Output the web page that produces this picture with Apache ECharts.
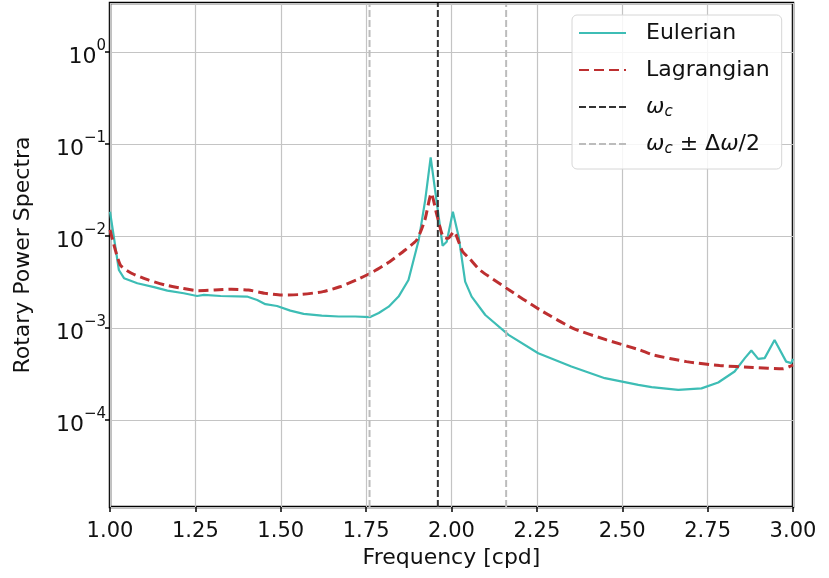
<!DOCTYPE html>
<html lang="en">
<head>
    <meta charset="UTF-8">
    <title>Rotary Power Spectra</title>
    <script src="https://cdn.jsdelivr.net/npm/echarts@6/dist/echarts.min.js"></script>
    <style>html, body {margin: 0; padding: 0; background: #fff;}</style>
</head>
<body>
<div id="echart" style="width:829px;height:578px"></div>
<script type="text/javascript">
    // values
    var eulerFreq = [1.00, 1.026, 1.041, 1.08, 1.129, 1.168, 1.216, 1.255, 1.275, 1.324, 1.401, 1.431, 1.455, 1.489,
        1.528, 1.567, 1.62, 1.67, 1.718, 1.762, 1.787, 1.816, 1.845, 1.874, 1.904, 1.923, 1.939, 1.974, 1.986,
        2.004, 2.021, 2.04, 2.059, 2.099, 2.167, 2.254, 2.351, 2.449, 2.547, 2.586, 2.664, 2.732, 2.781, 2.829,
        2.859, 2.878, 2.898, 2.917, 2.946, 2.98, 2.995, 3.00];
    var eulerPower = [0.0183, 0.00426, 0.00347, 0.00306, 0.00277, 0.00254, 0.00238, 0.00222, 0.00228, 0.00222,
        0.00219, 0.00201, 0.00181, 0.00173, 0.00154, 0.00142, 0.00136, 0.00133, 0.00133, 0.00131, 0.00145, 0.0017,
        0.00219, 0.00332, 0.0090, 0.0245, 0.0713, 0.0078, 0.00865, 0.0183, 0.0098, 0.00318, 0.00219, 0.00138,
        0.00084, 0.00053, 0.00038, 0.000284, 0.00024, 0.000227, 0.000212, 0.00022, 0.000255, 0.000336, 0.000469,
        0.000568, 0.00046, 0.000469, 0.00074, 0.00043, 0.000414, 0.00046];
    var lagFreq = [1.00, 1.03, 1.063, 1.112, 1.161, 1.21, 1.259, 1.307, 1.356, 1.405, 1.454, 1.502, 1.561, 1.624,
        1.673, 1.722, 1.771, 1.819, 1.858, 1.898, 1.922, 1.941, 1.956, 1.975, 1.99, 2.007, 2.032, 2.054, 2.083,
        2.161, 2.259, 2.356, 2.454, 2.551, 2.59, 2.688, 2.785, 2.883, 2.97, 3.00];
    var lagPower = [0.0116, 0.00483, 0.00393, 0.00332, 0.00293, 0.0027, 0.00254, 0.00258, 0.00263, 0.00258, 0.00238,
        0.00228, 0.00231, 0.00248, 0.0028, 0.00332, 0.00408, 0.00525, 0.00673, 0.00902, 0.0149, 0.029, 0.0176,
        0.0098, 0.0094, 0.0111, 0.0068, 0.0056, 0.00426, 0.0027, 0.00157, 0.00099, 0.00074, 0.000577, 0.000509,
        0.00043, 0.00039, 0.000371, 0.000359, 0.000395];
    var omegaC = 1.96;
    var halfBand = 0.2;
    var freqRange = [1.0, 3.0];
    var freqStep = 0.25;
    var powerRange = [1.13e-5, 3.4];

    function zip(xs, ys) {
        return xs.map(function (x, i) { return [x, ys[i]]; });
    }
    function vline(x) {
        return [[x, powerRange[0]], [x, powerRange[1]]];
    }

    var legendNames = {
        'Eulerian': 'Eulerian',
        'Lagrangian': 'Lagrangian',
        'ωc': '{i|ω}{sub|c}',
        'ωc ± Δω/2': '{i|ω}{sub|c}{n| ± Δ}{i|ω}{n|/2}'
    };

    var myEchart = echarts.init(document.getElementById('echart'));
    var option = {
        animation: false,
        grid: {
            left: 110, right: 36, top: 3, bottom: 71,
            show: true, borderColor: '#000', borderWidth: 2.5, backgroundColor: 'transparent'
        },
        legend: {
            orient: 'vertical',
            left: 572, top: 15,
            padding: [5, 12, 12, 6],
            itemGap: 11,
            itemWidth: 47,
            itemHeight: 14,
            itemStyle: {color: 'transparent', borderWidth: 0, opacity: 0},
            backgroundColor: 'rgba(255,255,255,0.85)',
            borderColor: '#d6d6d6',
            borderWidth: 1,
            borderRadius: 5,
            data: ['Eulerian', 'Lagrangian', 'ωc', 'ωc ± Δω/2'],
            formatter: function (name) { return legendNames[name]; },
            textStyle: {
                fontFamily: 'DejaVu Sans', fontSize: 22, color: '#111', lineHeight: 26,
                padding: [0, 0, 0, 15],
                rich: {
                    i: {fontFamily: 'DejaVu Sans', fontSize: 22, fontStyle: 'italic', color: '#111', lineHeight: 26},
                    n: {fontFamily: 'DejaVu Sans', fontSize: 22, color: '#111', lineHeight: 26},
                    sub: {fontFamily: 'DejaVu Sans', fontSize: 15, fontStyle: 'italic', color: '#111',
                        lineHeight: 15, verticalAlign: 'bottom'}
                }
            }
        },
        xAxis: {
            type: 'value',
            min: freqRange[0], max: freqRange[1], interval: freqStep,
            name: 'Frequency [cpd]',
            nameLocation: 'middle',
            nameGap: 38,
            nameTextStyle: {fontFamily: 'DejaVu Sans', fontSize: 22, color: '#111'},
            axisLine: {show: false},
            axisTick: {show: true, inside: false, length: 5, lineStyle: {color: '#000', width: 1.5}},
            axisLabel: {
                margin: 14, fontFamily: 'DejaVu Sans', fontSize: 21, color: '#111',
                formatter: function (v) { return v.toFixed(2); }
            },
            splitLine: {show: true, lineStyle: {color: '#c4c4c4', width: 1.2}}
        },
        yAxis: {
            type: 'log',
            logBase: 10,
            min: powerRange[0], max: powerRange[1],
            name: 'Rotary Power Spectra',
            nameLocation: 'middle',
            nameGap: 76,
            nameTextStyle: {fontFamily: 'DejaVu Sans', fontSize: 22, color: '#111'},
            axisLine: {show: false},
            axisTick: {show: true, inside: false, length: 5, lineStyle: {color: '#000', width: 1.5}},
            axisLabel: {
                margin: 4,
                showMinLabel: false, showMaxLabel: false,
                formatter: function (v) {
                    var e = Math.round(Math.log10(v));
                    return '{p| }{b|10}{s|' + (e < 0 ? '\u2212' + (-e) : e) + '}';
                },
                rich: {
                    p: {fontSize: 1, lineHeight: 32, width: 0},
                    b: {fontFamily: 'DejaVu Sans', fontSize: 22, color: '#111', lineHeight: 26, verticalAlign: 'bottom'},
                    s: {fontFamily: 'DejaVu Sans', fontSize: 15, color: '#111', lineHeight: 15, verticalAlign: 'top',
                        padding: [3, 0, 0, 0]}
                }
            },
            splitLine: {show: true, lineStyle: {color: '#c4c4c4', width: 1.2}}
        },
        series: [{
            name: 'Eulerian',
            type: 'line',
            symbol: 'none',
            color: '#3dbdb5',
            lineStyle: {color: '#3dbdb5', width: 2.2},
            data: zip(eulerFreq, eulerPower)
        }, {
            name: 'Lagrangian',
            type: 'line',
            symbol: 'none',
            smooth: 0.2,
            color: '#bd2f30',
            lineStyle: {color: '#bd2f30', width: 3, type: [10, 5]},
            data: zip(lagFreq, lagPower)
        }, {
            name: 'ωc',
            type: 'line',
            symbol: 'none',
            color: '#333333',
            lineStyle: {color: '#333333', width: 2, type: [7, 3]},
            data: vline(omegaC)
        }, {
            name: 'ωc ± Δω/2',
            type: 'line',
            symbol: 'none',
            color: '#bcbcbc',
            lineStyle: {color: '#bcbcbc', width: 2, type: [7, 3]},
            data: vline(omegaC + halfBand)
        }, {
            name: 'ωc ± Δω/2',
            type: 'line',
            symbol: 'none',
            color: '#bcbcbc',
            lineStyle: {color: '#bcbcbc', width: 2, type: [7, 3]},
            data: vline(omegaC - halfBand)
        }]
    };
    myEchart.setOption(option);
</script>
</body>
</html>
